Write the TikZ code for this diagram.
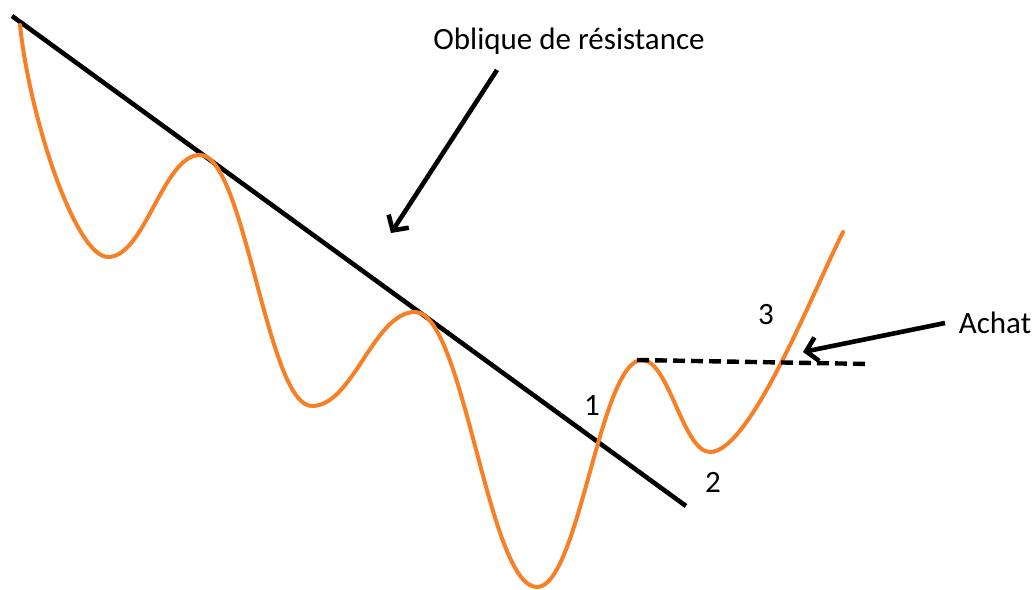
\documentclass[tikz,border=0pt]{standalone}
\usepackage{fontspec}
\setmainfont{Carlito}
\usetikzlibrary{arrows.meta}
\definecolor{curveorange}{RGB}{247,128,38}
\begin{document}
\begin{tikzpicture}[x=1pt,y=-1pt,
  trend/.style={line width=4.6pt,black},
  price/.style={line width=4pt,curveorange,line cap=round},
  pointer/.style={line width=4.6pt,black,-{Straight Barb[length=11pt,width=24pt,line width=4.6pt]}},
  level/.style={line width=4.4pt,black,dash pattern=on 12pt off 6pt},
  lbl/.style={font=\fontsize{31}{37}\selectfont,text=black,inner sep=0pt,anchor=base}]
\useasboundingbox (0,0) rectangle (1036,589);
% trend line
\coordinate (t0) at (12,16);
\coordinate (t1) at (686,506);
\draw[trend] (t0) -- (t1);
% price curve extrema
\coordinate (p0) at (20,25);
\coordinate (m1) at (108,257);
\coordinate (h1) at (200,155);
\coordinate (m2) at (312,406);
\coordinate (h2) at (415,312);
\coordinate (m3) at (537,587);
\coordinate (h3) at (642,360);
\coordinate (m4) at (710,452);
\coordinate (pe) at (843,232);
\draw[price] (p0) .. controls (30,120) and (76,257) .. (m1)
  .. controls (145,257) and (163,155) .. (h1)
  .. controls (245,155) and (267,406) .. (m2)
  .. controls (353,406) and (374,312) .. (h2)
  .. controls (464,312) and (488,587) .. (m3)
  .. controls (579,587) and (600,360) .. (h3)
  .. controls (669,360) and (683,452) .. (m4)
  .. controls (750,452) and (811,296) .. (pe);
% resistance level
\coordinate (d0) at (637,360);
\coordinate (d1) at (870,364);
\draw[level] (d0) -- (d1);
% labels
\node[lbl] (oblique) at (569,49) {Oblique de résistance};
\node[lbl] (achat) at (995,333) {Achat};
\node[lbl] (n1) at (592,415) {1};
\node[lbl] (n2) at (713,492) {2};
\node[lbl] (n3) at (766,324) {3};
% arrows
\coordinate (a0) at (497,70);
\coordinate (a1) at (391,233);
\draw[pointer] (a0) -- (a1);
\coordinate (b0) at (945,323);
\coordinate (b1) at (803,352);
\draw[pointer] (b0) -- (b1);
\end{tikzpicture}
\end{document}
